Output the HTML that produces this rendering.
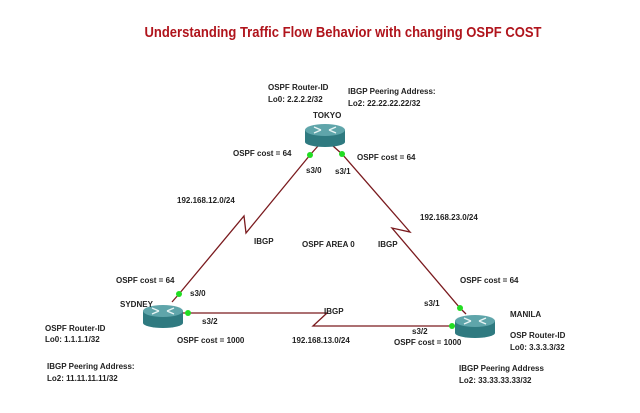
<!DOCTYPE html>
<html><head><meta charset="utf-8"><style>
html,body{margin:0;padding:0;background:#fff;}
svg{display:block;}
text{font-family:"Liberation Sans",sans-serif;font-weight:bold;font-size:8px;fill:#222;dominant-baseline:middle;}
</style></head><body>
<svg width="640" height="413" viewBox="0 0 640 413" xmlns="http://www.w3.org/2000/svg">
<defs>
<g id="rt">
  <rect x="-20" y="-5" width="40" height="12" fill="#2f7a80"/>
  <ellipse cx="0" cy="7" rx="20" ry="5" fill="#2f7a80"/>
  <ellipse cx="0" cy="-5" rx="20" ry="6" fill="#5fa5aa"/>
  <g stroke="#e8f4f4" stroke-width="1.4" fill="none">
    <path d="M-11,-8 L-4,-5 M-11,-2 L-4,-5 M11,-8 L4,-5 M11,-2 L4,-5"/>
  </g>
</g>
</defs>
<text x="343" y="33" text-anchor="middle" style="font-size:15px;fill:#b0141c" textLength="397" lengthAdjust="spacingAndGlyphs">Understanding Traffic Flow Behavior with changing OSPF COST</text>

<g stroke="#7a1a1e" stroke-width="1.3" fill="none">
  <polyline points="318,146 310,155 246,233 244,216 179,294 172,302"/>
  <polyline points="333,146 342,154 410,232 392,228 460,308 466,314"/>
  <polyline points="183,313 327,313 313,326 458,326"/>
</g>

<use href="#rt" x="325" y="135"/>
<use href="#rt" x="163" y="316"/>
<use href="#rt" x="475" y="326"/>

<g fill="#22dd22">
  <circle cx="310" cy="155" r="3"/><circle cx="342" cy="154" r="3"/>
  <circle cx="179" cy="294" r="3"/><circle cx="188" cy="313" r="3"/>
  <circle cx="460" cy="308" r="3"/><circle cx="452" cy="326" r="3"/>
</g>

<text x="268" y="88">OSPF Router-ID</text>
<text x="268" y="100">Lo0: 2.2.2.2/32</text>
<text x="348" y="92">IBGP Peering Address:</text>
<text x="348" y="104">Lo2: 22.22.22.22/32</text>
<text x="313" y="116">TOKYO</text>
<text x="233" y="154">OSPF cost = 64</text>
<text x="357" y="158">OSPF cost = 64</text>
<text x="306" y="171">s3/0</text>
<text x="335" y="172">s3/1</text>
<text x="177" y="201">192.168.12.0/24</text>
<text x="420" y="218">192.168.23.0/24</text>
<text x="254" y="242">IBGP</text>
<text x="302" y="245">OSPF AREA 0</text>
<text x="378" y="245">IBGP</text>
<text x="116" y="281">OSPF cost = 64</text>
<text x="120" y="305">SYDNEY</text>
<text x="190" y="294">s3/0</text>
<text x="324" y="312">IBGP</text>
<text x="460" y="281">OSPF cost = 64</text>
<text x="424" y="304">s3/1</text>
<text x="510" y="315">MANILA</text>
<text x="202" y="322">s3/2</text>
<text x="45" y="329">OSPF Router-ID</text>
<text x="45" y="340">Lo0: 1.1.1.1/32</text>
<text x="177" y="341">OSPF cost = 1000</text>
<text x="292" y="341">192.168.13.0/24</text>
<text x="412" y="332">s3/2</text>
<text x="394" y="343">OSPF cost = 1000</text>
<text x="510" y="336">OSP Router-ID</text>
<text x="510" y="348">Lo0: 3.3.3.3/32</text>
<text x="47" y="367">IBGP Peering Address:</text>
<text x="47" y="379">Lo2: 11.11.11.11/32</text>
<text x="459" y="369">IBGP Peering Address</text>
<text x="459" y="381">Lo2: 33.33.33.33/32</text>
</svg>
</body></html>
